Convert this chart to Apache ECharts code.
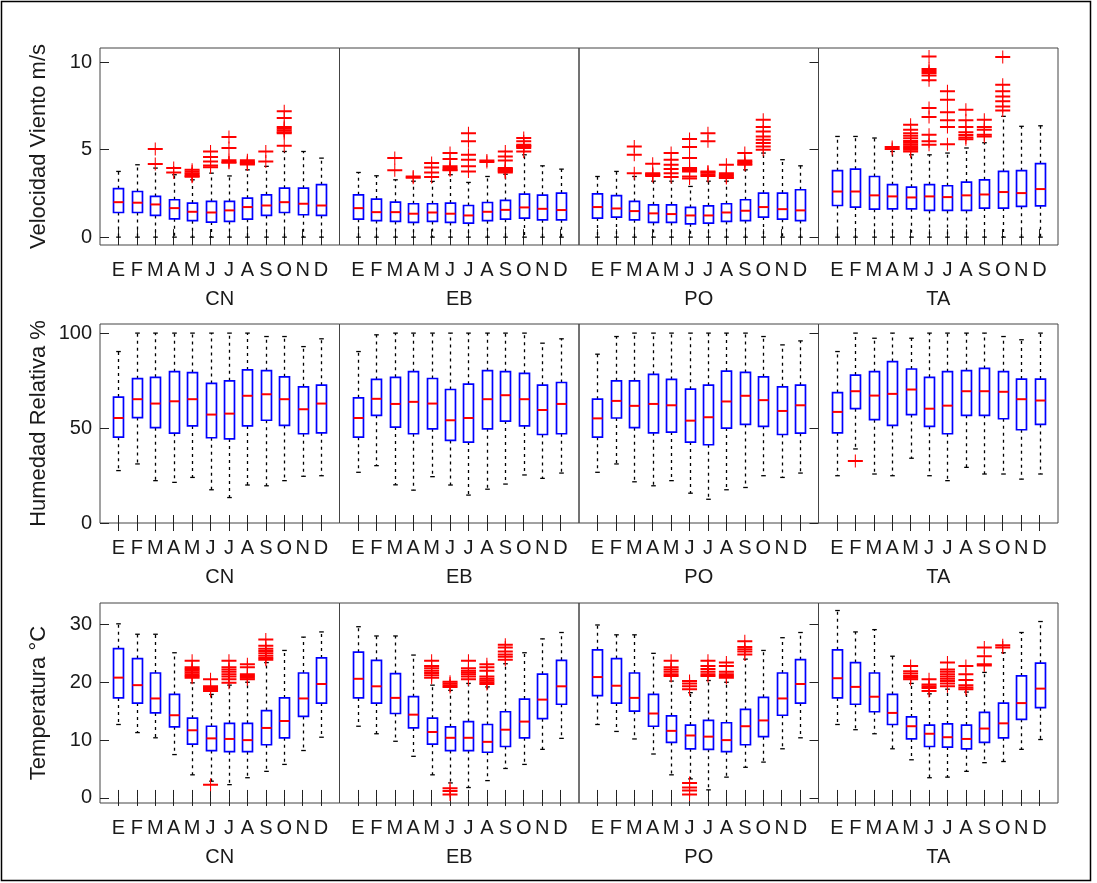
<!DOCTYPE html>
<html><head><meta charset="utf-8">
<script src="https://cdn.jsdelivr.net/npm/echarts@6/dist/echarts.min.js"></script>
<style>html,body{margin:0;padding:0;background:#fff}#c{width:1097px;height:883px}</style>
</head><body><div id="c"></div><script>
// ---------- labels ----------
const months = ['E','F','M','A','M','J','J','A','S','O','N','D'];
const stations = ['CN','EB','PO','TA'];
const rowTitles = ['Velocidad Viento m/s','Humedad Relativa %','Temperatura °C'];
const windTicks = [0,5,10];
const humTicks = [0,50,100];
const tempTicks = [0,10,20,30];

// ---------- box statistics per month: [whiskerLow, q1, median, q3, whiskerHigh] ----------
const wind_CN = [[0,1.41,2.0,2.77,3.76],[0,1.41,1.97,2.61,4.14],[0,1.24,1.87,2.33,3.95],[0,1.05,1.66,2.14,3.57],[0,0.94,1.45,1.95,3.28],[0,0.86,1.41,2.04,3.66],[0,0.9,1.53,2.04,3.5],[0,1.03,1.72,2.23,3.85],[0,1.24,1.81,2.42,4.05],[0,1.41,2.0,2.8,4.9],[0,1.28,1.91,2.8,4.9],[0,1.24,1.81,3.0,4.52]];
const wind_EB = [[0,1.03,1.66,2.42,3.7],[0,0.95,1.43,2.18,3.51],[0,0.9,1.43,2.0,3.28],[0,0.84,1.34,1.91,3.2],[0,0.9,1.41,1.91,3.19],[0,0.84,1.34,1.95,3.57],[0,0.8,1.24,1.81,3.13],[0,0.94,1.45,1.98,3.47],[0,1.03,1.56,2.1,3.6],[0,1.09,1.7,2.46,4.71],[0,0.99,1.62,2.4,4.08],[0,0.99,1.55,2.52,3.89]];
const wind_PO = [[0,1.09,1.72,2.48,3.47],[0,1.15,1.64,2.37,3.76],[0,0.99,1.49,2.04,3.47],[0,0.84,1.36,1.85,3.2],[0,0.84,1.32,1.85,3.2],[0,0.76,1.24,1.7,2.9],[0,0.8,1.24,1.79,3.2],[0,0.9,1.41,1.91,3.2],[0,0.95,1.51,2.14,3.85],[0,1.15,1.72,2.52,4.81],[0,1.03,1.6,2.52,4.43],[0,0.95,1.53,2.71,4.08]];
const wind_TA = [[0,1.81,2.61,3.8,5.76],[0,1.72,2.61,3.89,5.76],[0,1.6,2.39,3.47,5.67],[0,1.62,2.33,3.0,4.9],[0,1.62,2.27,2.86,4.71],[0,1.53,2.33,3.0,4.71],[0,1.53,2.29,2.94,4.81],[0,1.53,2.39,3.15,5.1],[0,1.66,2.44,3.28,5.4],[0,1.66,2.58,3.76,6.91],[0,1.76,2.52,3.8,6.34],[0,1.79,2.75,4.2,6.37]];

const hum_CN = [[27.6,45.2,55.3,66.3,90.3],[31.1,55.5,65.2,76.0,100],[22.3,50.2,62.9,76.7,100],[21.4,47.3,64.1,79.7,100],[24.0,51.1,65.2,79.2,100],[17.5,44.9,57.1,73.5,100],[13.4,44.3,57.6,74.9,100],[20.0,51.1,67.0,80.6,100],[19.6,54.1,67.8,80.2,98.2],[22.3,51.4,65.2,77.0,98.2],[24.6,47.0,59.9,71.7,92.9],[24.9,47.5,62.9,72.6,97.0]];
const hum_EB = [[26.7,45.2,55.3,65.9,90.3],[30.2,56.7,65.4,75.6,99.1],[20.1,50.5,62.7,76.7,100],[17.3,47.0,63.8,79.7,100],[24.4,49.6,62.9,76.1,100],[20.0,43.5,54.1,70.3,100],[14.7,42.6,55.3,73.1,100],[17.8,49.6,65.2,80.2,100],[20.5,53.7,67.3,79.7,100],[25.3,51.1,65.2,78.8,100],[23.5,46.6,59.5,72.6,94.7],[26.3,47.0,62.7,74.0,97.0]];
const hum_PO = [[26.7,45.2,55.1,65.2,88.9],[31.1,55.3,64.3,74.9,98.2],[21.7,50.2,61.7,74.9,100],[19.6,47.5,62.7,78.3,100],[22.3,47.9,62.0,75.6,100],[15.7,42.6,53.9,70.5,100],[12.5,41.2,55.7,72.6,100],[17.5,50.0,64.0,80.0,100],[18.7,51.9,67.0,79.3,100],[24.9,50.9,64.7,77.0,98.2],[24.0,46.6,59.0,71.7,93.8],[26.3,47.3,62.0,72.6,95.9]];
const hum_TA = [[24.9,47.5,58.5,68.7,90.3],[39.0,60.2,69.4,77.9,100],[25.8,54.4,67.1,79.7,97.3],[24.9,51.4,68.0,85.0,100],[34.1,57.1,70.3,81.1,97.3],[24.9,50.9,60.2,76.7,100],[22.3,47.0,61.8,79.7,100],[29.3,56.7,69.4,80.2,100],[25.8,56.7,69.4,81.4,100],[25.8,54.9,69.1,79.7,98.2],[23.1,49.1,65.2,75.8,96.5],[25.8,51.9,64.5,75.8,100]];

const temp_CN = [[12.7,17.3,20.8,25.8,30.1],[11.3,16.4,19.5,24.1,28.3],[10.4,14.7,17.2,21.6,28.3],[7.5,12.3,14.3,17.9,25.1],[4.0,9.3,11.7,13.8,19.9],[2.9,8.2,10.3,12.4,17.9],[2.3,8.0,10.2,12.9,19.5],[3.5,8.0,10.0,12.9,20.0],[4.6,9.2,12.1,15.1,23.4],[5.8,10.4,13.3,17.3,25.5],[8.2,14.1,17.2,21.6,27.8],[10.5,16.4,19.7,24.2,28.7]];
const temp_EB = [[12.4,17.3,20.6,25.2,29.6],[11.1,16.4,19.3,23.8,28.0],[9.8,14.6,17.3,21.5,28.0],[7.2,12.1,14.4,17.5,24.7],[4.0,9.3,11.4,13.8,19.5],[2.6,8.2,10.4,12.3,18.6],[1.8,8.2,10.4,13.2,19.8],[3.0,7.9,9.7,12.7,19.2],[5.1,8.9,11.8,14.9,23.2],[5.8,10.4,13.2,17.1,25.1],[8.4,13.7,17.0,21.4,27.5],[10.3,16.2,19.3,23.8,28.6]];
const temp_PO = [[12.7,17.7,20.9,25.6,29.9],[11.5,16.4,19.4,24.1,28.2],[10.2,15.0,17.3,21.6,28.2],[7.6,12.4,14.6,17.9,25.0],[4.0,9.6,11.6,14.2,20.2],[3.3,8.5,10.8,12.6,18.2],[1.4,8.4,10.6,13.4,20.3],[3.6,8.0,10.0,13.0,20.0],[5.3,9.2,12.4,15.3,24.0],[6.2,10.6,13.4,17.4,25.5],[8.5,14.3,17.2,21.6,27.7],[10.4,16.4,19.7,23.9,28.6]];
const temp_TA = [[12.7,17.3,20.7,25.6,32.4],[11.8,16.2,19.2,23.4,28.7],[11.1,14.9,17.5,21.6,29.1],[8.5,12.7,14.7,17.9,24.5],[6.6,10.2,12.4,14.0,19.8],[3.5,8.9,11.1,12.6,18.0],[3.6,8.8,10.5,12.8,18.8],[4.6,8.5,10.2,12.6,18.3],[6.1,9.6,12.0,14.8,21.7],[6.3,10.4,12.9,16.4,25.1],[8.4,13.6,16.4,21.1,28.6],[10.1,15.6,18.9,23.3,30.5]];

// ---------- outliers: [month, [values]] ----------
const windOut_CN = [[3,[5.04,4.18]],[4,[3.95,3.7]],[5,[3.85,3.75,3.65,3.58,3.5,3.45]],[6,[4.9,4.58,4.33,4.1,4.0]],[7,[5.73,5.1,4.4,4.3,4.25]],[8,[4.4,4.3,4.25,4.2,4.15]],[9,[4.9,4.33]],[10,[7.2,6.81,6.3,6.2,6.1,6.0,5.95,5.23]]];
const windOut_EB = [[3,[4.52,3.82]],[4,[3.47,3.4]],[5,[4.24,3.99,3.7,3.44]],[6,[4.81,4.47,4.05,3.95,3.85,3.82]],[7,[5.95,5.48,4.71,4.43,4.05,3.76]],[8,[4.39,4.3]],[9,[4.9,4.62,4.39,3.95,3.9,3.85,3.8,3.75,3.7]],[10,[5.67,5.48,5.29,5.22,5.19,5.1,4.9]]];
const windOut_PO = [[3,[5.19,4.71,3.66]],[4,[4.2,3.66,3.6,3.55,3.5]],[5,[4.81,4.43,4.14,3.9,3.66,3.44]],[6,[5.61,5.15,4.52,3.95,3.9,3.82,3.76,3.47,3.35]],[7,[5.95,5.48,3.76,3.7,3.6,3.5]],[8,[4.14,3.66,3.55,3.45,3.38]],[9,[4.81,4.39,4.3,4.2,4.14]],[10,[6.72,6.3,6.05,5.76,5.57,5.38,5.19,5.0]]];
const windOut_TA = [[4,[5.15,5.04]],[5,[6.43,6.15,5.95,5.8,5.65,5.5,5.4,5.3,5.2,5.1,5.0,4.9]],[6,[10.34,9.62,9.5,9.39,9.24,8.97,7.39,6.87,5.86,5.48,5.29]],[7,[8.34,7.86,7.14,6.68,6.3,5.32]],[8,[7.29,6.68,6.3,6.0,5.85,5.7,5.6]],[9,[6.72,6.3,6.15,5.86,5.75]],[10,[10.3,8.72,8.34,8.05,7.77,7.48,7.25]]];
const humOut_CN = [];
const humOut_EB = [];
const humOut_PO = [];
const humOut_TA = [[2,[32.6]]];
const tempOut_CN = [[5,[23.7,22.6,22.3,22.0,21.7,21.4,21.1,20.8]],[6,[20.5,19.3,19.0,18.8,18.5,2.3]],[7,[23.7,22.6,22.2,21.8,21.4,21.0,20.5,19.9]],[8,[23.1,22.6,21.4,21.1,20.8,20.5]],[9,[27.4,26.3,25.8,25.4,25.0,24.6,24.2,23.9]]];
const tempOut_EB = [[5,[23.7,22.8,22.4,22.0,21.6,21.2,20.8]],[6,[20.1,19.8,19.5,19.2,1.7,1.2,0.6]],[7,[23.7,22.4,22.0,21.7,21.4,21.0,20.5]],[8,[23.1,22.6,22.0,21.0,20.6,20.3,20.0,19.7]],[9,[26.5,26.0,25.3,24.8,24.4,23.9]]];
const tempOut_PO = [[5,[23.7,22.6,22.2,21.8,21.4,21.1]],[6,[20.2,19.8,19.3,18.8,2.6,1.8,1.3,0.6]],[7,[23.7,22.8,22.3,21.8,21.4,21.1]],[8,[23.4,22.8,21.8,21.4,21.1,20.8]],[9,[27.1,26.1,25.7,25.3,24.8]]];
const tempOut_TA = [[5,[22.8,21.9,21.5,21.1,20.8,20.5]],[6,[20.5,19.6,19.3,19.0,18.5]],[7,[23.4,22.2,21.8,21.4,21.0,20.6,20.2,19.8,19.3]],[8,[22.8,21.4,20.4,19.5,19.1,18.8]],[9,[26.0,24.5,23.1,22.9]],[10,[26.4,26.0]]];

// ---------- assembly ----------
const rows = [
  {boxes:[wind_CN,wind_EB,wind_PO,wind_TA], outs:[windOut_CN,windOut_EB,windOut_PO,windOut_TA], ticks:windTicks, min:-0.45, max:10.82},
  {boxes:[hum_CN,hum_EB,hum_PO,hum_TA], outs:[humOut_CN,humOut_EB,humOut_PO,humOut_TA], ticks:humTicks, min:0, max:104.8},
  {boxes:[temp_CN,temp_EB,temp_PO,temp_TA], outs:[tempOut_CN,tempOut_EB,tempOut_PO,tempOut_TA], ticks:tempTicks, min:-0.87, max:33.7}
];
const colLeft = [100, 339.5, 579, 818.5];
const colW = 239.5;
const rowTop = [48, 324, 603];
const rowH = [197, 199, 200];
const FONT = 'Liberation Sans, Arial, sans-serif';
const TXT = '#1a1a1a';

const grid = [], xAxis = [], yAxis = [], series = [];
const crossPath = 'path://M0,5.5H20V7.5H0Z M9.3,0H10.7V13H9.3Z';

function renderBox(params, api) {
  const x = api.value(0);
  const pLo = api.coord([x, api.value(1)]);
  const pQ1 = api.coord([x, api.value(2)]);
  const pMd = api.coord([x, api.value(3)]);
  const pQ3 = api.coord([x, api.value(4)]);
  const pHi = api.coord([x, api.value(5)]);
  const unit = api.size([1, 0])[0];
  const bw = unit * 0.54, cw = unit * 0.25;
  const cx = Math.round(pMd[0]) + 0.5;
  const dash = {stroke:'#000', lineWidth:1.3, lineDash:[3,4]};
  const solid = {stroke:'#000', lineWidth:1.3};
  return {type:'group', children:[
    {type:'line', shape:{x1:cx, y1:pQ3[1], x2:cx, y2:pHi[1]}, style:dash},
    {type:'line', shape:{x1:cx, y1:pQ1[1], x2:cx, y2:pLo[1]}, style:dash},
    {type:'line', shape:{x1:cx-cw/2, y1:pHi[1], x2:cx+cw/2, y2:pHi[1]}, style:solid},
    {type:'line', shape:{x1:cx-cw/2, y1:pLo[1], x2:cx+cw/2, y2:pLo[1]}, style:solid},
    {type:'rect', shape:{x:cx-bw/2, y:pQ3[1], width:bw, height:pQ1[1]-pQ3[1]}, style:{fill:'#fff', stroke:'#0000ff', lineWidth:1.7}},
    {type:'line', shape:{x1:cx-bw/2, y1:pMd[1], x2:cx+bw/2, y2:pMd[1]}, style:{stroke:'#ff0000', lineWidth:2}}
  ]};
}

let gi = 0;
rows.forEach((row, r) => {
  for (let c = 0; c < 4; c++) {
    grid.push({left: colLeft[c], top: rowTop[r], width: colW, height: rowH[r], show: true,
      borderColor: '#444', borderWidth: 1, backgroundColor: 'transparent', containLabel: false});
    const xBase = {type:'value', gridIndex: gi, min: 0, max: 13, splitLine:{show:false},
      axisLine:{show:false}};
    xAxis.push(Object.assign({}, xBase, {position:'bottom',
      axisTick:{show:true, inside:true, length:8, customValues:[1,2,3,4,5,6,7,8,9,10,11,12], lineStyle:{color:'#222'}},
      axisLabel:{show:true, customValues:[1,2,3,4,5,6,7,8,9,10,11,12], formatter: v => months[v-1] || '',
        fontSize:20, color:TXT, fontFamily:FONT, margin:15},
      name: stations[c], nameLocation:'middle', nameGap:44,
      nameTextStyle:{fontSize:20, color:TXT, fontFamily:FONT}}));
    xAxis.push(Object.assign({}, xBase, {position:'top',
      axisTick:{show:true, inside:true, length:8, customValues:[1,2,3,4,5,6,7,8,9,10,11,12], lineStyle:{color:'#222'}},
      axisLabel:{show:false}}));
    const yBase = {type:'value', gridIndex: gi, min: row.min, max: row.max, splitLine:{show:false}, axisLine:{show:false}};
    yAxis.push(Object.assign({}, yBase, {position:'left',
      axisTick:{show: c === 0, inside:true, length:9, customValues: row.ticks, lineStyle:{color:'#222'}},
      axisLabel:{show: c === 0, customValues: row.ticks, fontSize:20, color:TXT, fontFamily:FONT, margin:8},
      name: c === 0 ? rowTitles[r] : '', nameLocation:'middle', nameGap:50,
      nameTextStyle:{fontSize:22, color:TXT, fontFamily:FONT}}));
    yAxis.push(Object.assign({}, yBase, {position:'right',
      axisTick:{show: c === 3, inside:true, length:9, customValues: row.ticks, lineStyle:{color:'#222'}},
      axisLabel:{show:false}}));
    const xi = gi * 2, yi = gi * 2;
    series.push({type:'custom', xAxisIndex: xi, yAxisIndex: yi, renderItem: renderBox,
      encode:{x:0, y:[1,2,3,4,5]}, silent:true, animation:false, clip:false,
      data: row.boxes[c].map((s, i) => [i + 1].concat(s))});
    const pts = [];
    row.outs[c].forEach(([m, vals]) => vals.forEach(v => pts.push([m, v])));
    series.push({type:'scatter', xAxisIndex: xi, yAxisIndex: yi, symbol: crossPath, symbolSize:[15,13],
      itemStyle:{color:'#ff0000', opacity:1}, silent:true, animation:false, z:5, data: pts});
    gi++;
  }
});

const chart = echarts.init(document.getElementById('c'), null, {renderer:'canvas'});
chart.setOption({
  backgroundColor:'#fff', animation:false,
  grid, xAxis, yAxis, series,
  graphic:[{type:'rect', shape:{x:1.5, y:1.5, width:1089, height:879}, style:{fill:'none', stroke:'#000', lineWidth:1.5}, silent:true}]
});
</script></body></html>
